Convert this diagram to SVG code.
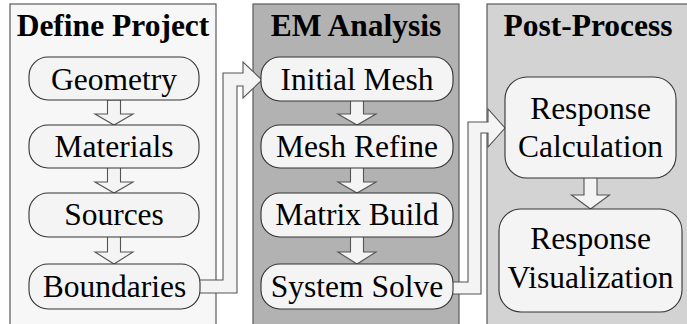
<svg xmlns="http://www.w3.org/2000/svg" width="687" height="324" viewBox="0 0 687 324">
  <style>
    .panel { stroke: #5a5a5a; stroke-width: 1.2; }
    .title { font-family: "Liberation Serif", "Times New Roman", serif; font-weight: bold; font-size: 31.5px; fill: #000; text-anchor: middle; }
    .box { fill: #f4f4f4; stroke: #333; stroke-width: 1.1; }
    .label { font-family: "Liberation Serif", "Times New Roman", serif; font-size: 31.5px; fill: #000; text-anchor: middle; }
    .arrow { fill: #f4f4f4; stroke: #555; stroke-width: 1.1; stroke-linejoin: miter; }
  </style>
  <rect width="687" height="324" fill="#fff"/>

  <!-- stage panels -->
  <g id="panel-define">
    <rect class="panel" x="10" y="4" width="206" height="330" fill="#f7f7f7"/>
    <text class="title" x="113" y="36">Define Project</text>
  </g>
  <g id="panel-em">
    <rect class="panel" x="253" y="4" width="206" height="330" fill="#b2b2b2"/>
    <text class="title" x="356" y="36">EM Analysis</text>
  </g>
  <g id="panel-post">
    <rect class="panel" x="487" y="4" width="210" height="330" fill="#d3d3d3"/>
    <text class="title" x="588" y="36">Post-Process</text>
  </g>

  <!-- block arrows between steps -->
  <g id="connectors">
    <!-- Define Project column -->
    <polygon class="arrow" points="107.5,100 120.5,100 120.5,114 133,114 114,125 95,114 107.5,114"/>
    <polygon class="arrow" points="107.5,167 120.5,167 120.5,182 133,182 114,193 95,182 107.5,182"/>
    <polygon class="arrow" points="107.5,236 120.5,236 120.5,252 133,252 114,264 95,252 107.5,252"/>
    <!-- EM Analysis column -->
    <polygon class="arrow" points="350.5,100 363.5,100 363.5,114 376,114 357,125 338,114 350.5,114"/>
    <polygon class="arrow" points="350.5,167 363.5,167 363.5,182 376,182 357,193 338,182 350.5,182"/>
    <polygon class="arrow" points="350.5,236 363.5,236 363.5,252 376,252 357,264 338,252 350.5,252"/>
    <!-- Post-Process column -->
    <polygon class="arrow" points="584,177 597,177 597,195 609.5,195 590.5,209 571.5,195 584,195"/>
    <!-- Boundaries -> Initial Mesh -->
    <polygon class="arrow" points="196,280 223,280 223,73 243,73 243,62 262,80 243,98 243,86 237,86 237,293 196,293"/>
    <!-- System Solve -> Response Calculation -->
    <polygon class="arrow" points="448,282 468,282 468,122 488,122 488,109 505,128 488,147 488,133 481,133 481,294 448,294"/>
  </g>

  <!-- Define Project steps -->
  <g id="node-geometry">
    <rect class="box" x="29" y="57" width="170" height="43" rx="19"/>
    <text class="label" x="114" y="90">Geometry</text>
  </g>
  <g id="node-materials">
    <rect class="box" x="29" y="125" width="170" height="43" rx="19"/>
    <text class="label" x="114" y="157">Materials</text>
  </g>
  <g id="node-sources">
    <rect class="box" x="29" y="193" width="170" height="44" rx="19"/>
    <text class="label" x="114" y="225">Sources</text>
  </g>
  <g id="node-boundaries">
    <rect class="box" x="29" y="264" width="171" height="45" rx="19"/>
    <text class="label" x="114.5" y="297">Boundaries</text>
  </g>

  <!-- EM Analysis steps -->
  <g id="node-initial-mesh">
    <rect class="box" x="261" y="57" width="192" height="44" rx="19"/>
    <text class="label" x="357" y="90">Initial Mesh</text>
  </g>
  <g id="node-mesh-refine">
    <rect class="box" x="261" y="125" width="192" height="43" rx="19"/>
    <text class="label" x="357" y="157">Mesh Refine</text>
  </g>
  <g id="node-matrix-build">
    <rect class="box" x="261" y="193" width="192" height="44" rx="19"/>
    <text class="label" x="357" y="225">Matrix Build</text>
  </g>
  <g id="node-system-solve">
    <rect class="box" x="261" y="264" width="192" height="45" rx="19"/>
    <text class="label" x="357" y="297">System Solve</text>
  </g>

  <!-- Post-Process steps -->
  <g id="node-response-calculation">
    <rect class="box" x="505" y="77" width="171" height="101" rx="22"/>
    <text class="label" x="590.5" y="119">Response</text>
    <text class="label" x="590.5" y="157">Calculation</text>
  </g>
  <g id="node-response-visualization">
    <rect class="box" x="499" y="209" width="183" height="103" rx="22"/>
    <text class="label" x="590.5" y="249">Response</text>
    <text class="label" x="590.5" y="288">Visualization</text>
  </g>
</svg>
